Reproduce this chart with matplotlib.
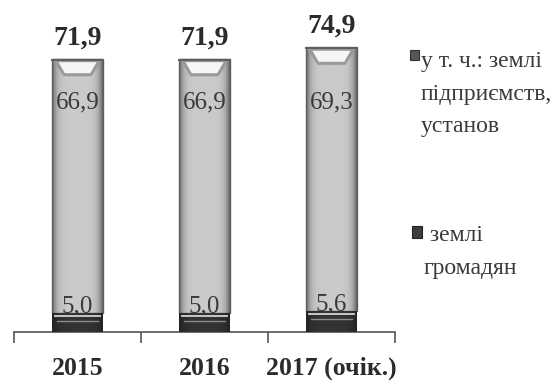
import numpy as np
import matplotlib
matplotlib.use("Agg")
import matplotlib.pyplot as plt
from matplotlib.patches import Rectangle, Polygon

years = ["2015", "2016", "2017 (очік.)"]
citizens = [5.0, 5.0, 5.6]          # землі громадян
enterprises = [66.9, 66.9, 69.3]    # у т. ч.: землі підприємств, установ
totals = [71.9, 71.9, 74.9]
legend_labels = ["у т. ч.: землі\nпідприємств,\nустанов", " землі\nгромадян"]

plt.rcParams["font.family"] = ["Liberation Serif", "DejaVu Serif"]

fig = plt.figure(figsize=(5.59, 3.82), dpi=100)
ax = fig.add_axes([14 / 559, 1 - 332 / 382, (395 - 14) / 559, 332 / 382])

x = np.arange(len(years))
w = 0.40

def fmt(v):
    return f"{v:.1f}".replace(".", ",")

# horizontal shading so the bars look rounded
u = np.linspace(0, 1, 64)
prof = 0.79 - 0.40 * np.abs(2 * u - 1) ** 6
grad = np.tile(prof, (2, 1))
dprof = 0.20 - 0.06 * np.abs(2 * u - 1) ** 4
dgrad = np.tile(dprof, (2, 1))

for i in range(len(years)):
    x0, x1 = x[i] - w / 2, x[i] + w / 2
    base = citizens[i]
    top = citizens[i] + enterprises[i]

    # upper (light) segment
    rect = Rectangle((x0, base), w, enterprises[i], facecolor="none", edgecolor="none")
    ax.add_patch(rect)
    im = ax.imshow(grad, extent=[x0, x1, base, top], aspect="auto", cmap="gray",
                   vmin=0, vmax=1, zorder=2, interpolation="bilinear")
    im.set_clip_path(rect)
    ax.add_patch(Rectangle((x0, base), w, enterprises[i], facecolor="none",
                           edgecolor="#5e5e5e", lw=1.0, zorder=3))
    # bevel on top
    ax.add_patch(Polygon([(x0, top), (x1, top), (x1 - 0.09, top - 4.6), (x0 + 0.09, top - 4.6)],
                         closed=True, facecolor="#9a9a9a", edgecolor="none", zorder=3))
    ax.add_patch(Polygon([(x0 + 0.05, top - 0.9), (x1 - 0.05, top - 0.9),
                          (x1 - 0.10, top - 3.8), (x0 + 0.10, top - 3.8)],
                         closed=True, facecolor="#f6f6f6", edgecolor="none", zorder=3))
    ax.plot([x0, x1], [top - 0.2, top - 0.2], color="#5e5e5e", lw=1.4, zorder=3)

    # lower (dark) segment
    rect2 = Rectangle((x0, 0), w, citizens[i], facecolor="none", edgecolor="none")
    ax.add_patch(rect2)
    im2 = ax.imshow(dgrad, extent=[x0, x1, 0, base], aspect="auto", cmap="gray",
                    vmin=0, vmax=1, zorder=4, interpolation="bilinear")
    im2.set_clip_path(rect2)
    ax.plot([x0 + 0.02, x1 - 0.02], [base - 0.9, base - 0.9], color="#c8c8c8", lw=1.4, zorder=5)
    ax.plot([x0 + 0.04, x1 - 0.04], [base - 2.2, base - 2.2], color="#8a8a8a", lw=1.0, zorder=5)

    # value labels
    ax.annotate(fmt(totals[i]), (x[i], top), xytext=(0, 6), textcoords="offset points",
                ha="center", va="bottom", fontsize=20, fontweight="bold", color="#2b2b2b")
    ax.text(x[i], 60.5, fmt(enterprises[i]), ha="center", va="center",
            fontsize=18, color="#3a3a3a", zorder=5)
    ax.text(x[i], base - 1.2, fmt(citizens[i]), ha="center", va="bottom",
            fontsize=18, color="#3a3a3a", zorder=3)

ax.set_xlim(-0.5, 2.5)
ax.set_ylim(0, 332 / 3.8)
ax.set_xticks(x)
ax.set_xticklabels(years, fontsize=18.5, fontweight="bold", color="#2b2b2b")
ax.set_xticks([-0.5, 0.5, 1.5, 2.5], minor=True)
ax.tick_params(axis="x", which="major", length=0, pad=18)
ax.tick_params(axis="x", which="minor", length=8, width=1.2, color="#555555")
ax.set_yticks([])
for s in ["left", "right", "top"]:
    ax.spines[s].set_visible(False)
ax.spines["bottom"].set_color("#555555")
ax.spines["bottom"].set_linewidth(1.2)

# legend drawn as text with small square markers
fig.patches.append(Rectangle((410 / 559, 1 - 60 / 382), 9 / 559, 10 / 382,
                             transform=fig.transFigure, facecolor="#555555",
                             edgecolor="#333333", lw=0.8))
fig.text(421 / 559, 1 - 51 / 382, legend_labels[0], ha="left", va="top",
         fontsize=17, color="#3a3a3a", linespacing=1.72)
fig.patches.append(Rectangle((412 / 559, 1 - 238 / 382), 10 / 559, 12 / 382,
                             transform=fig.transFigure, facecolor="#3c3c3c",
                             edgecolor="#222222", lw=0.8))
fig.text(424 / 559, 1 - 225 / 382, legend_labels[1], ha="left", va="top",
         fontsize=17, color="#3a3a3a", linespacing=1.72)

fig.savefig("out.png", dpi=100)
